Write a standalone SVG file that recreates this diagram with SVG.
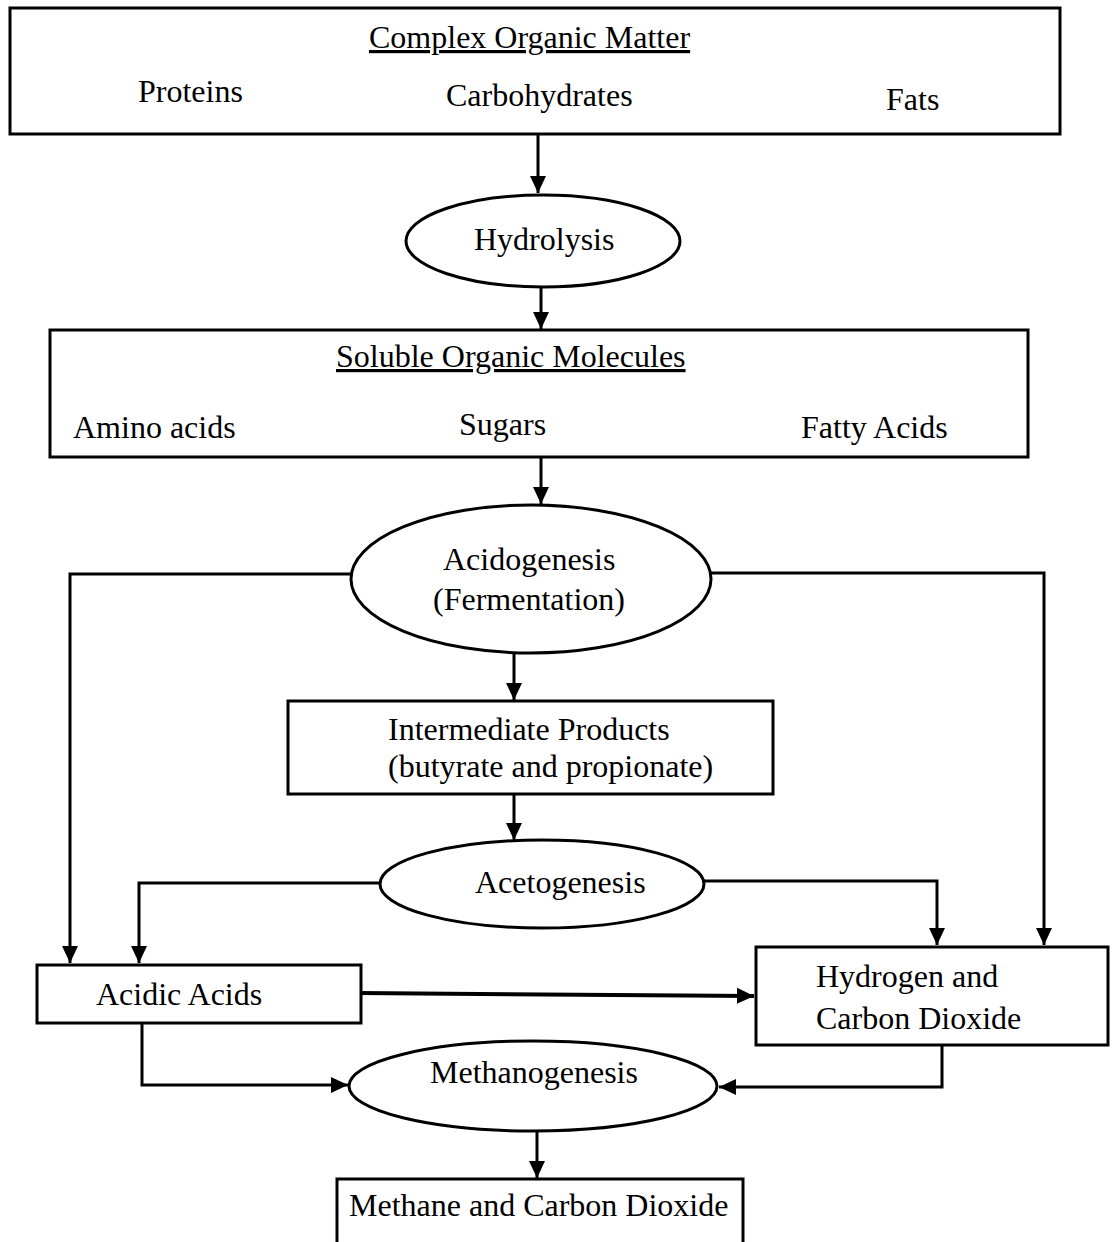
<svg xmlns="http://www.w3.org/2000/svg" width="1112" height="1242" viewBox="0 0 1112 1242">
<style>
  .box { fill: #fff; stroke: #000; stroke-width: 3; }
  .ell { fill: #fff; stroke: #000; stroke-width: 3; }
  .t { font-family: "Liberation Serif", "Times New Roman", serif; font-size: 32px; fill: #000; }
  .u { text-decoration: underline; }
  .c { fill: none; stroke: #000; stroke-width: 3; marker-end: url(#ah); }
  .cn { fill: none; stroke: #000; stroke-width: 3; }
</style>
<defs>
  <marker id="ah" markerUnits="userSpaceOnUse" markerWidth="18" markerHeight="18" viewBox="0 0 18 18" refX="17" refY="9" orient="auto">
    <path d="M0,1 L17,9 L0,17 Z" fill="#000"/>
  </marker>
</defs>
<rect width="1112" height="1242" fill="#fff"/>

<g id="connectors">
  <path class="c" d="M538,134 V193"/>
  <path class="c" d="M541,287 V329"/>
  <path class="c" d="M541,457 V504"/>
  <path class="c" d="M351,574 H70 V963"/>
  <path class="c" d="M711,573 H1044 V945"/>
  <path class="c" d="M514,653 V700"/>
  <path class="c" d="M514,794 V840"/>
  <path class="c" d="M380,883 H139 V963"/>
  <path class="c" d="M704,881 H937 V945"/>
  <path class="c" d="M358,993 L754,996" style="stroke-width:4"/>
  <path class="c" d="M142,1023 V1085 H348"/>
  <path class="c" d="M942,1045 V1087 H719"/>
  <path class="c" d="M537,1131 V1178"/>
</g>

<g id="complex-organic-matter">
  <rect class="box" x="10" y="8" width="1050" height="126"/>
  <text class="t u" x="369" y="48">Complex Organic Matter</text>
  <text class="t" x="138" y="102">Proteins</text>
  <text class="t" x="446" y="106">Carbohydrates</text>
  <text class="t" x="886" y="110">Fats</text>
</g>

<g id="hydrolysis">
  <ellipse class="ell" cx="543" cy="241" rx="137" ry="46"/>
  <text class="t" x="474" y="250">Hydrolysis</text>
</g>

<g id="soluble-organic-molecules">
  <rect class="box" x="50" y="330" width="978" height="127"/>
  <text class="t u" x="336" y="367">Soluble Organic Molecules</text>
  <text class="t" x="73" y="438">Amino acids</text>
  <text class="t" x="459" y="435">Sugars</text>
  <text class="t" x="801" y="438">Fatty Acids</text>
</g>

<g id="acidogenesis">
  <ellipse class="ell" cx="531" cy="579" rx="180" ry="74"/>
  <text class="t" x="443" y="570">Acidogenesis</text>
  <text class="t" x="433" y="610">(Fermentation)</text>
</g>

<g id="intermediate-products">
  <rect class="box" x="288" y="701" width="485" height="93"/>
  <text class="t" x="388" y="740">Intermediate Products</text>
  <text class="t" x="388" y="777">(butyrate and propionate)</text>
</g>

<g id="acetogenesis">
  <ellipse class="ell" cx="542" cy="884" rx="162" ry="44"/>
  <text class="t" x="475" y="893">Acetogenesis</text>
</g>

<g id="acidic-acids">
  <rect class="box" x="37" y="965" width="324" height="58"/>
  <text class="t" x="96" y="1005">Acidic Acids</text>
</g>

<g id="hydrogen-carbon-dioxide">
  <rect class="box" x="756" y="947" width="352" height="98"/>
  <text class="t" x="816" y="987">Hydrogen and</text>
  <text class="t" x="816" y="1029">Carbon Dioxide</text>
</g>

<g id="methanogenesis">
  <ellipse class="ell" cx="533" cy="1086" rx="184" ry="45"/>
  <text class="t" x="430" y="1083">Methanogenesis</text>
</g>

<g id="methane-carbon-dioxide">
  <rect class="box" x="337" y="1179" width="406" height="90"/>
  <text class="t" x="349" y="1216">Methane and Carbon Dioxide</text>
</g>
</svg>
